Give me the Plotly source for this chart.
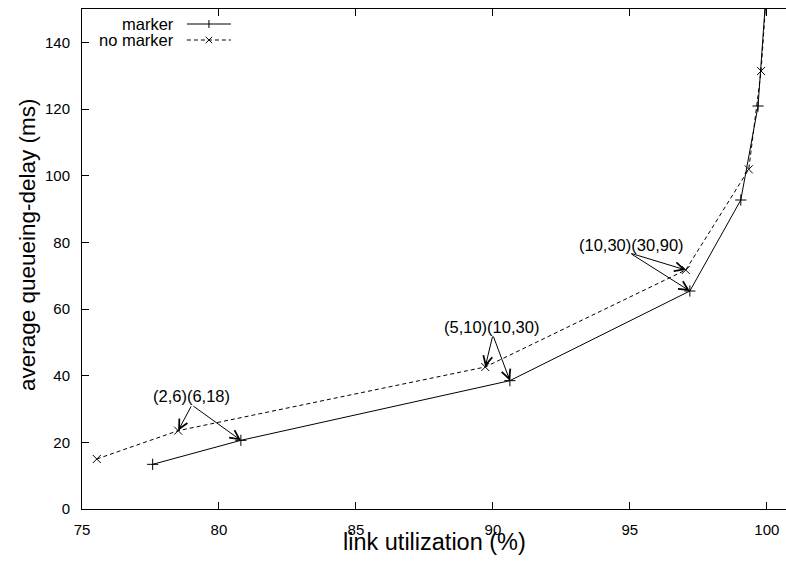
import plotly.graph_objects as go

# ---- data ----
marker_x = [77.58, 80.80, 90.62, 97.19, 99.05, 99.68, 99.94]
marker_y = [13.4, 20.6, 38.5, 65.4, 92.7, 120.9, 151.0]
nomarker_x = [75.54, 78.51, 89.72, 97.04, 99.34, 99.79, 99.97]
nomarker_y = [15.0, 23.5, 42.6, 71.7, 101.9, 131.4, 153.0]

# annotation labels: text, label centre, arrow tail, indices of targeted points
label_texts = ["(2,6)(6,18)", "(5,10)(10,30)", "(10,30)(30,90)"]
label_x = [78.98, 89.96, 95.07]
label_y = [33.9, 54.7, 79.3]
tail_x = [79.01, 90.00, 95.00]
tail_y = [31.2, 52.2, 76.8]
target_idx = [1, 2, 3]

x_ticks = [75, 80, 85, 90, 95, 100]
y_ticks = [0, 20, 40, 60, 80, 100, 120, 140]
x_range = [75, 100.7]
y_range = [0, 150]

FONT = "Liberation Sans, Arial, Helvetica, sans-serif"

fig = go.Figure()
fig.add_trace(go.Scatter(
    x=marker_x, y=marker_y, mode="lines+markers", name="marker",
    line=dict(color="black", width=1),
    marker=dict(symbol="cross-thin", size=8, line=dict(color="black", width=1)),
    showlegend=False))
fig.add_trace(go.Scatter(
    x=nomarker_x, y=nomarker_y, mode="lines+markers", name="no marker",
    line=dict(color="black", width=1, dash="4px,3px"),
    marker=dict(symbol="x-thin", size=8, line=dict(color="black", width=1)),
    showlegend=False))

annotations = []
for t, lx, ly, tx, ty, i in zip(label_texts, label_x, label_y, tail_x, tail_y, target_idx):
    annotations.append(dict(x=lx, y=ly, xref="x", yref="y", text=t, showarrow=False,
                            xanchor="center", yanchor="middle",
                            font=dict(family=FONT, size=16.5, color="black")))
    for (px, py) in [(nomarker_x[i], nomarker_y[i]), (marker_x[i], marker_y[i])]:
        annotations.append(dict(x=px, y=py, xref="x", yref="y", ax=tx, ay=ty,
                                axref="x", ayref="y", text="", showarrow=True,
                                arrowhead=5, arrowsize=1.8, arrowwidth=1,
                                arrowcolor="black", standoff=0, startstandoff=0))

# axis titles
annotations.append(dict(x=0.5, y=-0.066, xref="paper", yref="paper",
                        xanchor="center", yanchor="middle",
                        text="link utilization (%)", showarrow=False,
                        font=dict(family=FONT, size=23.5, color="black")))
annotations.append(dict(x=-0.078, y=0.528, xref="paper", yref="paper",
                        xanchor="center", yanchor="middle",
                        text="average queueing-delay (ms)", textangle=-90, showarrow=False,
                        font=dict(family=FONT, size=22.5, color="black")))

# key (gnuplot style: right-aligned text, then sample)
key_names = ["marker", "no marker"]
key_y = [0.970, 0.938]
key_dash = ["solid", "dash"]
shapes = []
for name, ky, dsh in zip(key_names, key_y, key_dash):
    annotations.append(dict(x=0.1335, y=ky, xref="paper", yref="paper",
                            xanchor="right", yanchor="middle",
                            text=name, showarrow=False,
                            font=dict(family=FONT, size=16.5, color="black")))
    shapes.append(dict(type="line", xref="paper", yref="paper", x0=0.149, x1=0.2116,
                       y0=ky, y1=ky,
                       line=dict(color="black", width=1,
                                 dash="solid" if dsh == "solid" else "4px,3px")))
    cx = (0.149 + 0.2116) / 2
    dx = 4 / 704
    dy = 4 / 500
    if dsh == "solid":
        shapes.append(dict(type="line", xref="paper", yref="paper", x0=cx, x1=cx,
                           y0=ky - dy, y1=ky + dy, line=dict(color="black", width=1)))
    else:
        shapes.append(dict(type="line", xref="paper", yref="paper", x0=cx - dx * 0.8,
                           x1=cx + dx * 0.8, y0=ky - dy * 0.8, y1=ky + dy * 0.8,
                           line=dict(color="black", width=1)))
        shapes.append(dict(type="line", xref="paper", yref="paper", x0=cx - dx * 0.8,
                           x1=cx + dx * 0.8, y0=ky + dy * 0.8, y1=ky - dy * 0.8,
                           line=dict(color="black", width=1)))

fig.update_layout(
    width=786, height=563,
    margin=dict(l=82, r=0, t=9, b=54),
    plot_bgcolor="white", paper_bgcolor="white",
    font=dict(family=FONT, size=15, color="black"),
    annotations=annotations, shapes=shapes,
    showlegend=False,
)
fig.update_xaxes(range=x_range, tickvals=x_ticks, ticks="inside", ticklen=7,
                 tickcolor="black", showline=True, linecolor="black", linewidth=1,
                 mirror="ticks", showgrid=False, zeroline=False, ticklabelstandoff=7,
                 tickfont=dict(family=FONT, size=15, color="black"))
fig.update_yaxes(range=y_range, tickvals=y_ticks, ticks="inside", ticklen=7,
                 tickcolor="black", showline=True, linecolor="black", linewidth=1,
                 mirror=False, showgrid=False, zeroline=False, ticklabelstandoff=8,
                 tickfont=dict(family=FONT, size=15, color="black"))

fig.write_html("out.html")
